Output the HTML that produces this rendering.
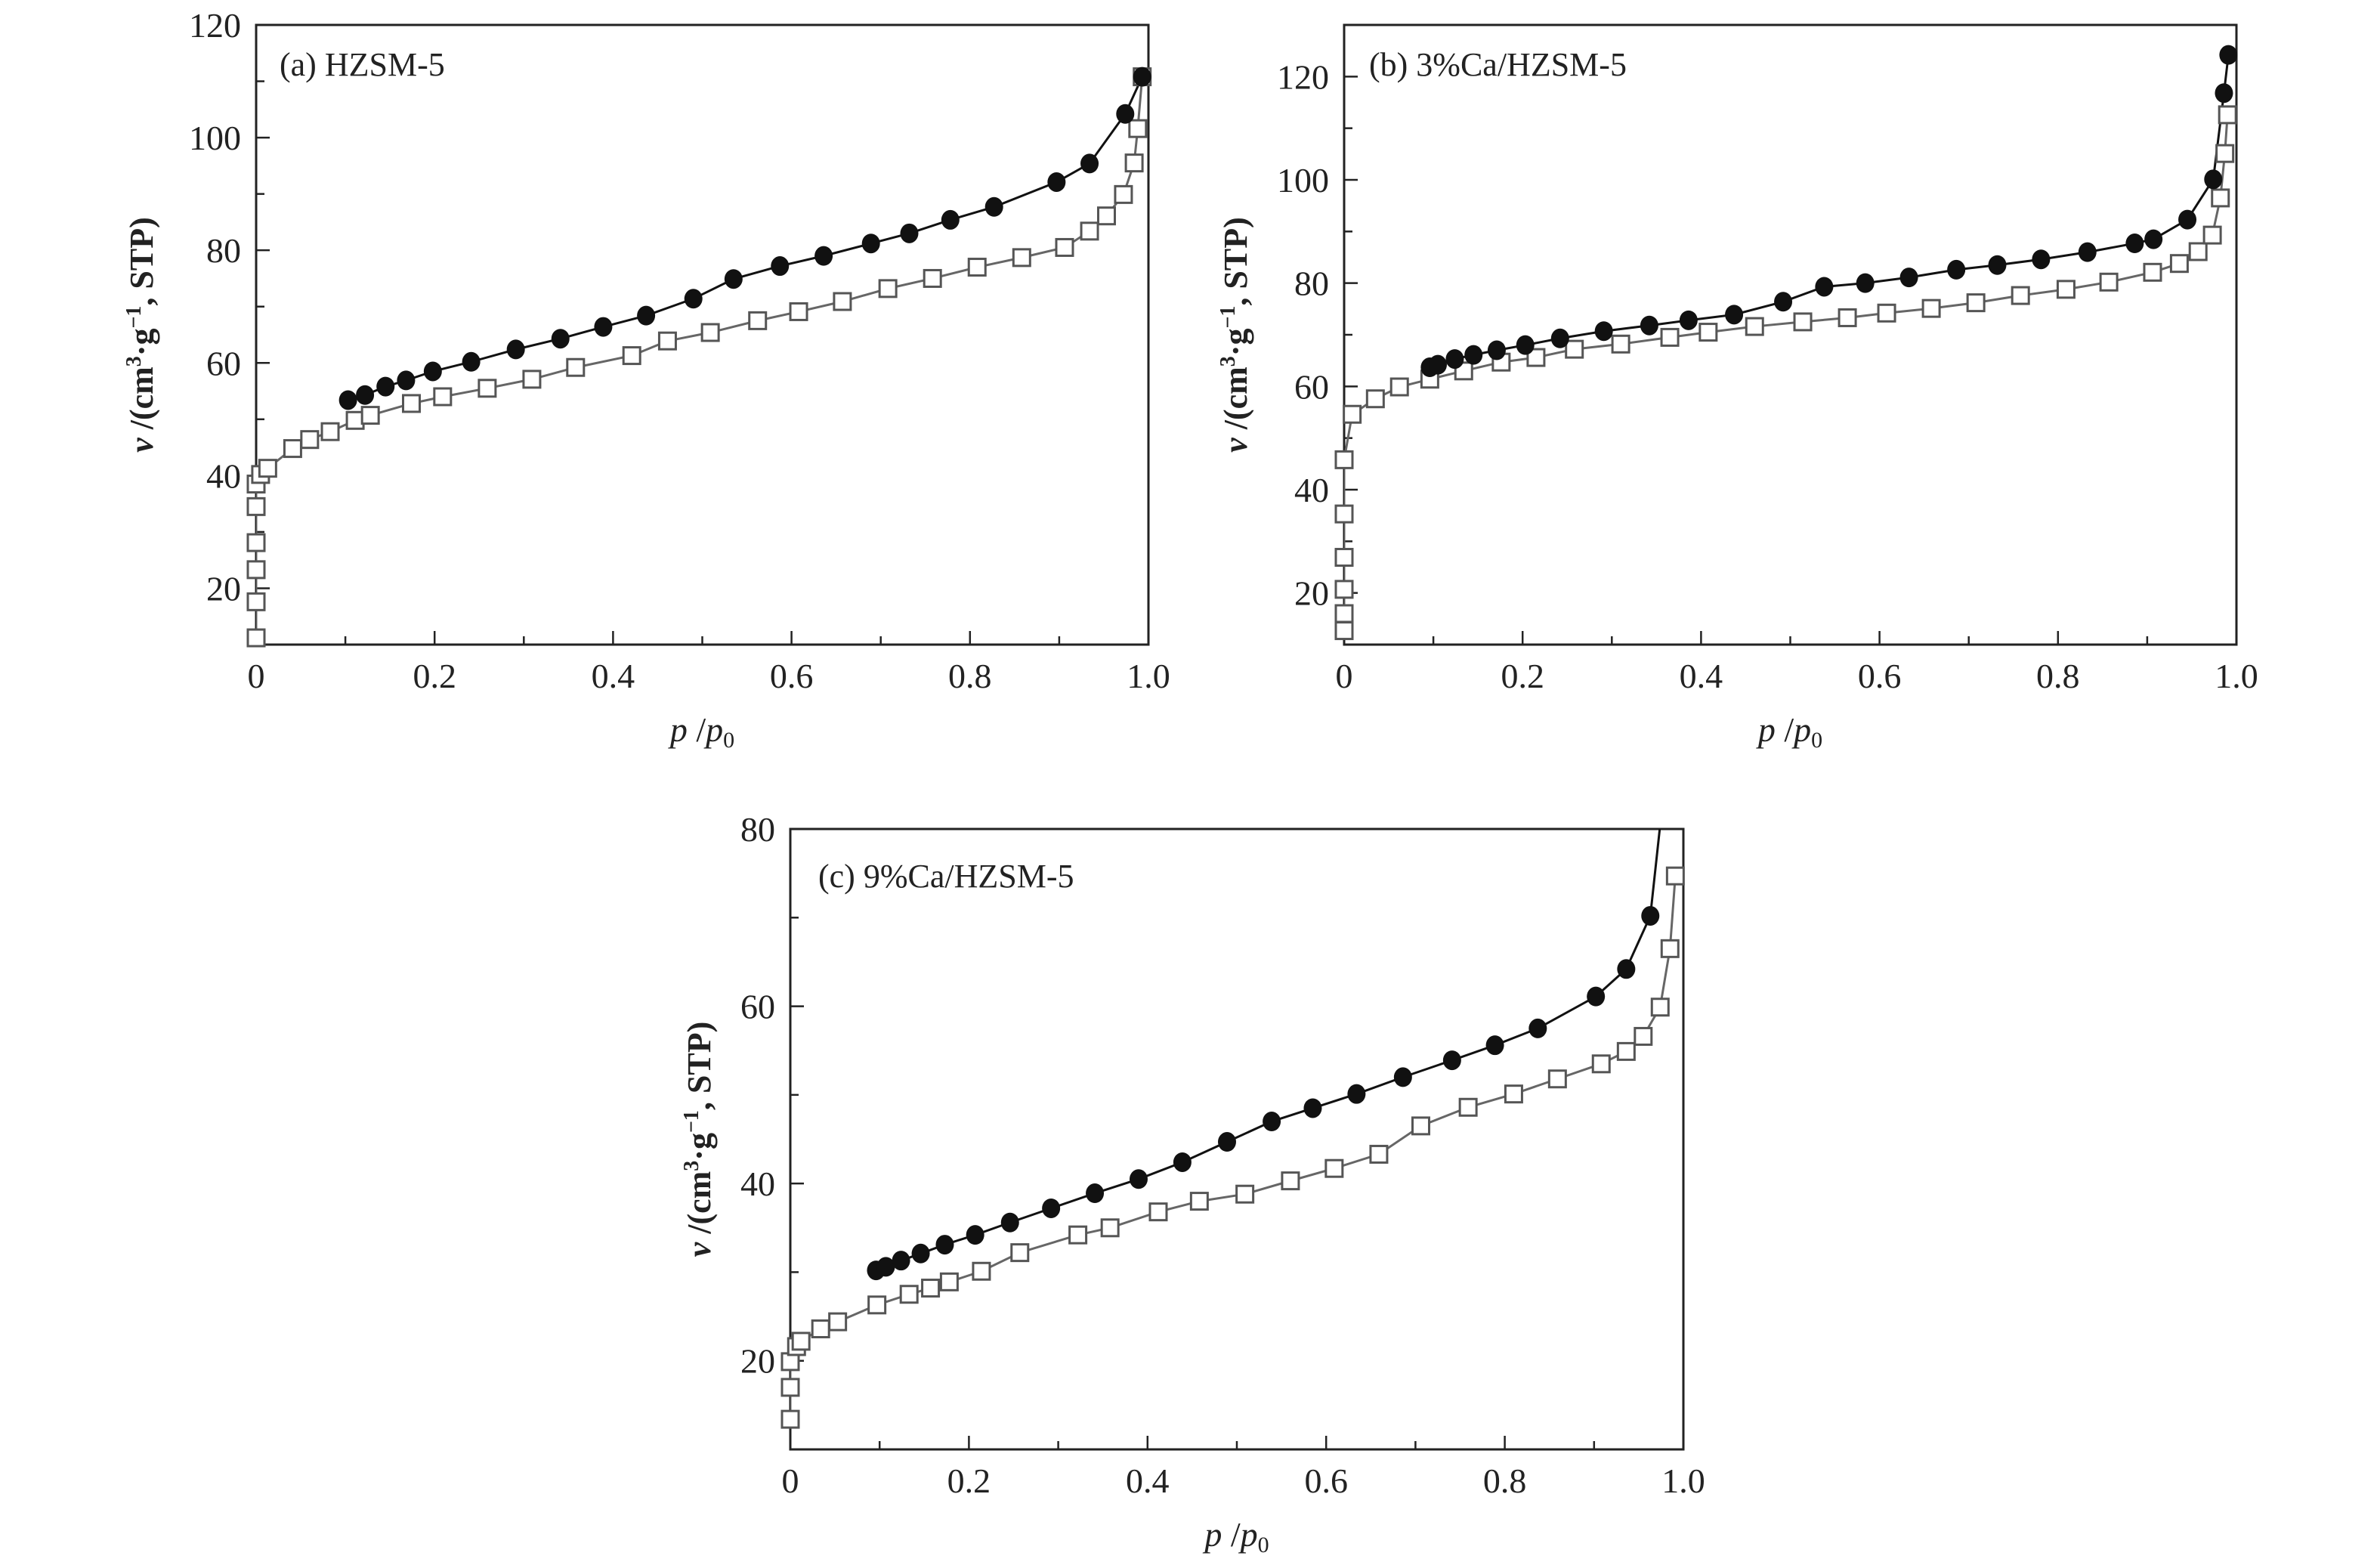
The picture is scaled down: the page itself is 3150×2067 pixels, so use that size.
<!DOCTYPE html>
<html><head><meta charset="utf-8">
<style>
html,body{margin:0;padding:0;background:#fff;}
svg{display:block;}
text{font-family:"Liberation Serif",serif;fill:#222;}
</style></head>
<body>
<svg id="fig" width="3150" height="2067" viewBox="0 0 3150 2067" xmlns="http://www.w3.org/2000/svg"></svg>
<script>
// ---- Panel (a) HZSM-5 ----
const aAdsX=[0,0,0,0,0,0,0.005,0.013,0.041,0.06,0.083,0.111,0.128,0.174,0.209,0.259,0.309,0.358,0.421,0.461,0.509,0.562,0.608,0.657,0.708,0.758,0.808,0.858,0.906,0.934,0.953,0.972,0.984,0.988,0.993];
const aAdsY=[11.2,17.6,23.3,28.1,34.5,38.5,40.2,41.3,44.8,46.4,47.8,49.8,50.7,52.8,54.0,55.5,57.1,59.2,61.3,63.9,65.4,67.5,69.1,70.9,73.2,75.0,77.0,78.7,80.5,83.4,86.1,89.9,95.5,101.6,110.8];
const aDesX=[0.103,0.122,0.145,0.168,0.198,0.241,0.291,0.341,0.389,0.437,0.490,0.535,0.587,0.636,0.689,0.732,0.778,0.827,0.897,0.934,0.974,0.993];
const aDesY=[53.4,54.3,55.8,56.9,58.5,60.2,62.4,64.3,66.4,68.4,71.4,74.9,77.2,79.0,81.2,83.0,85.4,87.7,92.1,95.4,104.2,110.8];
// ---- Panel (b) 3%Ca/HZSM-5 ----
const bAdsX=[0,0,0,0,0,0,0.009,0.035,0.062,0.096,0.134,0.176,0.215,0.258,0.310,0.365,0.408,0.460,0.514,0.564,0.608,0.658,0.708,0.758,0.809,0.857,0.906,0.936,0.957,0.973,0.982,0.987,0.990];
const bAdsY=[12.7,16.0,20.7,26.9,35.3,45.8,54.6,57.6,59.9,61.4,63.0,64.7,65.6,67.2,68.2,69.5,70.5,71.6,72.5,73.3,74.2,75.1,76.2,77.6,78.8,80.2,82.1,83.8,86.1,89.3,96.5,105.1,112.6];
const bDesX=[0.096,0.105,0.124,0.145,0.171,0.203,0.242,0.291,0.342,0.386,0.437,0.492,0.538,0.584,0.633,0.686,0.732,0.781,0.833,0.886,0.907,0.945,0.974,0.986,0.991];
const bDesY=[63.7,64.2,65.3,66.1,67.0,68.0,69.3,70.7,71.8,72.8,73.9,76.4,79.3,80.0,81.1,82.6,83.5,84.6,86.0,87.7,88.5,92.3,100.1,116.8,124.2];
// ---- Panel (c) 9%Ca/HZSM-5 ----
const cAdsX=[0,0,0,0.007,0.012,0.034,0.053,0.097,0.133,0.157,0.178,0.214,0.257,0.322,0.358,0.412,0.458,0.509,0.560,0.609,0.659,0.706,0.759,0.810,0.859,0.908,0.936,0.955,0.974,0.985,0.991];
const cAdsY=[13.4,17.0,19.9,21.6,22.2,23.6,24.4,26.3,27.5,28.2,28.9,30.1,32.2,34.2,35.0,36.8,38.0,38.8,40.3,41.7,43.3,46.5,48.6,50.1,51.8,53.5,54.9,56.6,59.9,66.5,74.7];
const cDesX=[0.096,0.107,0.124,0.146,0.173,0.207,0.246,0.292,0.341,0.390,0.439,0.489,0.539,0.585,0.634,0.686,0.741,0.789,0.837,0.902,0.936,0.963,0.980];
const cDesY=[30.2,30.6,31.3,32.1,33.1,34.2,35.6,37.2,38.9,40.5,42.4,44.7,47.0,48.5,50.1,52.0,53.9,55.6,57.5,61.1,64.2,70.2,86.0];
const cDesShown=22; // last point is line continuation only
const xTicks=[0,0.2,0.4,0.6,0.8,1.0];
const xTickLabels=["0","0.2","0.4","0.6","0.8","1.0"];
const aYTicks=[20,40,60,80,100,120];
const bYTicks=[20,40,60,80,100,120];
const cYTicks=[20,40,60,80];

const NS="http://www.w3.org/2000/svg";
const svg=document.getElementById('fig');
function mk(tag,attrs,parent){const e=document.createElementNS(NS,tag);for(const k in attrs)e.setAttribute(k,attrs[k]);(parent||svg).appendChild(e);return e;}

function panel(id,L,R,T,B,ymin,ymax,yTicks,yMinor,title,titleX,titleY,yTitleX,adsX,adsY,desX,desY,desShown){
  const g=mk('g',{});
  
  
  const sx=v=>L+(R-L)*v;
  const sy=v=>B-(B-T)*(v-ymin)/(ymax-ymin);
  const cp=mk('clipPath',{id:'clip'+id},g);
  mk('rect',{x:L,y:T,width:R-L,height:B-T},cp);
  const fr=mk('rect',{x:L,y:T,width:R-L,height:B-T,fill:'none',stroke:'#222','stroke-width':3},g);
  
  
  for(let i=0;i<=10;i++){const v=i/10;const x=sx(v);const major=i%2===0;
    const t=mk('line',{x1:x,x2:x,y1:B,y2:B-(major?18:11),stroke:'#222','stroke-width':2.5},g);
    
    }
  xTicks.forEach((v,i)=>{const t=mk('text',{x:sx(v),y:B+57,'font-size':46,'text-anchor':'middle'},g);t.textContent=xTickLabels[i];
    
    });
  yTicks.forEach(v=>{const y=sy(v);
    const t=mk('line',{x1:L,x2:L+18,y1:y,y2:y,stroke:'#222','stroke-width':2.5},g);
    
    
    const lb=mk('text',{x:L-20,y:y+16,'font-size':46,'text-anchor':'end'},g);lb.textContent=String(v);
    
    });
  yMinor.forEach(v=>{const y=sy(v);
    const t=mk('line',{x1:L,x2:L+11,y1:y,y2:y,stroke:'#222','stroke-width':2.5},g);
    
    });
  const xt=mk('text',{x:(L+R)/2,y:B+128,'font-size':46,'text-anchor':'middle'},g);
  xt.innerHTML='<tspan font-style="italic">p</tspan> /<tspan font-style="italic">p</tspan><tspan font-size="30" dy="8">0</tspan>';
  
  
  const yc=(T+B)/2;
  const yt=mk('text',{x:yTitleX,y:yc,'font-size':44,'text-anchor':'middle','font-weight':'bold',transform:`rotate(-90 ${yTitleX} ${yc})`},g);
  yt.innerHTML='<tspan font-style="italic">v</tspan> /(cm<tspan font-size="28" dy="-16">3</tspan><tspan dy="16">·g</tspan><tspan font-size="28" dy="-16">−1</tspan><tspan dy="16">, STP)</tspan>';
  
  
  const pt=mk('text',{x:titleX,y:titleY,'font-size':44},g);pt.textContent=title;
  
  
  const dg=mk('g',{'clip-path':`url(#clip${id})`},g);
  const mg=mk('g',{},g);
  const ap=mk('polyline',{points:adsX.map((x,i)=>sx(x)+','+sy(adsY[i])).join(' '),fill:'none',stroke:'#666','stroke-width':3},dg);
  
  
  const dp=mk('polyline',{points:desX.map((x,i)=>sx(x)+','+sy(desY[i])).join(' '),fill:'none',stroke:'#111','stroke-width':3},dg);
  
  
  adsX.forEach((x,i)=>{const s=mk('rect',{x:sx(x)-11,y:sy(adsY[i])-11,width:22,height:22,fill:'#fff',stroke:'#555','stroke-width':3},mg);
    
    });
  desX.forEach((x,i)=>{if(i>=desShown)return;const c=mk('ellipse',{cx:sx(x),cy:sy(desY[i]),rx:12,ry:13,fill:'#111'},mg);
    
    });
}
panel('a',339,1520,33,853,10,120,aYTicks,[30,50,70,90,110],'(a) HZSM-5',370,100,202,aAdsX,aAdsY,aDesX,aDesY,aDesX.length);
panel('b',1779,2960,33,853,10,130,bYTicks,[30,50,70,90,110],'(b) 3%Ca/HZSM-5',1812,100,1650,bAdsX,bAdsY,bDesX,bDesY,bDesX.length);
panel('c',1046,2228,1097,1918,10,80,cYTicks,[30,50,70],'(c) 9%Ca/HZSM-5',1083,1174,940,cAdsX,cAdsY,cDesX,cDesY,cDesShown);
</script>
</body></html>
